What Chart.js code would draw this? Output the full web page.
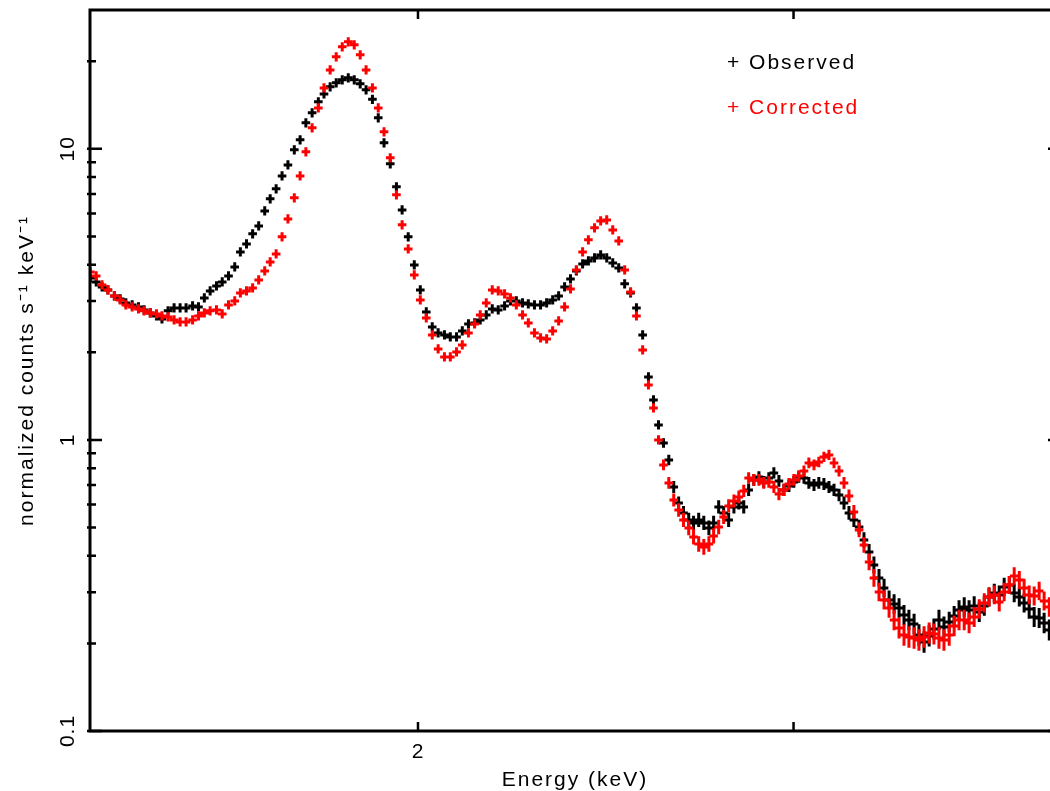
<!DOCTYPE html>
<html>
<head>
<meta charset="utf-8">
<title>Spectrum</title>
<script src="https://cdn.jsdelivr.net/npm/chart.js@4.4.0/dist/chart.umd.min.js"></script>
<style>
  html, body { margin: 0; padding: 0; background: #fff; overflow: hidden; }
  #wrap { width: 1050px; height: 791px; overflow: hidden; }
  canvas { display: block; }
</style>
</head>
<body>
<div id="wrap"><canvas id="spectrum" width="1080" height="791"></canvas></div>
<script>
// Energy bins (keV), shared by both spectra
const energy = [
  1.404, 1.413, 1.422, 1.431, 1.441, 1.450, 1.459, 1.469, 1.479, 1.488,
  1.498, 1.508, 1.517, 1.527, 1.537, 1.547, 1.557, 1.568, 1.578, 1.588,
  1.598, 1.609, 1.619, 1.630, 1.641, 1.651, 1.662, 1.673, 1.684, 1.695,
  1.705, 1.716, 1.727, 1.738, 1.750, 1.761, 1.772, 1.784, 1.796, 1.807,
  1.819, 1.831, 1.843, 1.855, 1.867, 1.879, 1.891, 1.904, 1.916, 1.928,
  1.941, 1.954, 1.966, 1.979, 1.992, 2.005, 2.018,
  2.031, 2.044, 2.058, 2.071, 2.085, 2.098, 2.112, 2.126, 2.139, 2.153,
  2.167, 2.181, 2.196, 2.210, 2.224, 2.239, 2.253, 2.268, 2.283, 2.298,
  2.313, 2.328, 2.343, 2.358, 2.373, 2.389, 2.404, 2.420, 2.436, 2.452,
  2.468, 2.484, 2.500, 2.516, 2.532, 2.549, 2.565,
  2.579, 2.593, 2.607, 2.622, 2.636, 2.650, 2.664, 2.679, 2.693, 2.708,
  2.723, 2.738, 2.752, 2.767, 2.782, 2.797, 2.813, 2.828, 2.843, 2.858,
  2.874, 2.890, 2.905, 2.921, 2.937, 2.953, 2.969, 2.985, 3.001, 3.017,
  3.034, 3.050, 3.067, 3.083, 3.100, 3.117, 3.134, 3.151, 3.168, 3.185,
  3.202, 3.220, 3.237, 3.255, 3.272, 3.290, 3.308, 3.326, 3.344, 3.362,
  3.380, 3.398, 3.417, 3.435, 3.454, 3.473, 3.491, 3.510, 3.529, 3.549,
  3.568, 3.587, 3.607, 3.626, 3.646, 3.666, 3.686, 3.705, 3.726, 3.746,
  3.766, 3.787, 3.807, 3.828, 3.848, 3.869, 3.890, 3.911, 3.932, 3.954,
  3.975
];

// normalized counts s^-1 keV^-1
const observed = [
  3.603, 3.491, 3.356, 3.277, 3.125, 3.051, 2.956, 2.910, 2.864, 2.797,
  2.732, 2.668, 2.605, 2.776, 2.842, 2.842, 2.842, 2.887, 2.864, 3.076,
  3.251, 3.382, 3.491, 3.661, 3.931, 4.426, 4.716, 5.105, 5.438, 6.122,
  6.734, 7.289, 8.075, 8.810, 9.922, 10.74, 12.29, 13.30, 14.51, 15.45,
  16.34, 16.86, 17.27, 17.54, 17.27, 16.73, 15.95, 14.80, 12.78, 10.49,
  8.881, 7.405, 6.171, 4.985, 3.994, 3.277, 2.754,
  2.445, 2.332, 2.295, 2.259, 2.259, 2.369, 2.504, 2.524, 2.584, 2.689,
  2.819, 2.797, 2.887, 3.003, 3.003, 2.956, 2.933, 2.910, 2.910, 2.956,
  3.027, 3.125, 3.356, 3.575, 3.809, 4.025, 4.122, 4.221, 4.322, 4.221,
  4.057, 3.900, 3.437, 3.200, 2.842, 2.295, 1.646,
  1.372, 1.126, 0.9765, 0.8538, 0.6895, 0.6075, 0.5613, 0.5311, 0.5186, 0.5311,
  0.5186, 0.4985, 0.5186, 0.5886, 0.5613, 0.5311, 0.5886, 0.6075, 0.5886, 0.6733,
  0.7290, 0.7461, 0.7173, 0.7404, 0.7703, 0.7230, 0.6733, 0.6950, 0.7173, 0.7461,
  0.7404, 0.7116, 0.7005, 0.7116, 0.7060, 0.6895, 0.6733, 0.6471, 0.6075, 0.5613,
  0.5311, 0.5024, 0.4533, 0.4122, 0.3720, 0.3356, 0.3101, 0.2819, 0.2731, 0.2646,
  0.2504, 0.2406, 0.2331, 0.2137, 0.2022, 0.2121, 0.2241, 0.2406, 0.2277, 0.2369,
  0.2484, 0.2604, 0.2667, 0.2604, 0.2689, 0.2564, 0.2689, 0.2887, 0.2980, 0.2934,
  0.3125, 0.3175, 0.2980, 0.2887, 0.2754, 0.2625, 0.2464, 0.2445, 0.2350, 0.2224,
  0.2137
];

const corrected = [
  3.779, 3.661, 3.409, 3.277, 3.125, 3.027, 2.910, 2.864, 2.819, 2.776,
  2.732, 2.710, 2.668, 2.647, 2.584, 2.543, 2.543, 2.584, 2.668, 2.732,
  2.776, 2.797, 2.710, 2.910, 3.003, 3.200, 3.251, 3.329, 3.546, 3.809,
  4.089, 4.357, 4.985, 5.747, 6.787, 8.075, 9.766, 11.81, 13.83, 16.20,
  18.68, 20.71, 22.41, 23.32, 22.77, 21.04, 18.68, 16.20, 13.83, 11.44,
  9.314, 6.950, 5.482, 4.533, 3.690, 3.027, 2.626,
  2.295, 2.054, 1.929, 1.929, 2.006, 2.121, 2.332, 2.504, 2.689, 2.956,
  3.277, 3.251, 3.175, 3.076, 2.910, 2.689, 2.524, 2.332, 2.241, 2.224,
  2.369, 2.564, 2.864, 3.303, 3.839, 4.426, 4.868, 5.354, 5.655, 5.702,
  5.267, 4.829, 3.839, 3.226, 2.668, 2.038, 1.545,
  1.288, 1.000, 0.8205, 0.7116, 0.6221, 0.5744, 0.5311, 0.4985, 0.4642, 0.4392,
  0.4289, 0.4392, 0.4679, 0.5024, 0.5438, 0.5933, 0.6172, 0.6370, 0.6680, 0.7404,
  0.7290, 0.7290, 0.7116, 0.7173, 0.6895, 0.6523, 0.6733, 0.7060, 0.7290, 0.7520,
  0.7825, 0.8337, 0.8205, 0.8403, 0.8741, 0.8881, 0.8337, 0.7825, 0.7116, 0.6421,
  0.5658, 0.4907, 0.4357, 0.3808, 0.3356, 0.3003, 0.2819, 0.2646, 0.2406, 0.2259,
  0.2137, 0.2104, 0.2087, 0.2054, 0.2104, 0.2172, 0.2154, 0.2087, 0.2054, 0.2137,
  0.2295, 0.2406, 0.2406, 0.2350, 0.2464, 0.2625, 0.2754, 0.2887, 0.2934, 0.2775,
  0.3003, 0.3175, 0.3409, 0.3303, 0.3101, 0.2934, 0.2910, 0.3028, 0.2797, 0.2667,
  0.2504
];

// Axis ticks
const yMajorTicks = [0.1, 1, 10];
const yTickLabels = ['0.1', '1', '10'];
const yMinorTicks = [0.2, 0.3, 0.4, 0.5, 0.6, 0.7, 0.8, 0.9, 2, 3, 4, 5, 6, 7, 8, 9, 20];
const xTicks = [2, 3];
const xTickLabels = ['2', ''];

const FONT = '21px "Liberation Sans", Arial, Helvetica, sans-serif';

// Draws the error-bar crosses, frame, inward ticks and all texts
const pgplotFrame = {
  id: 'pgplotFrame',
  afterDatasetsDraw(chart) {
    const { ctx, chartArea: a, scales: { x, y } } = chart;

    // data crosses (bin width horizontally, error vertically)
    chart.data.datasets.forEach((ds, di) => {
      const pts = chart.getDatasetMeta(di).data;
      ctx.save();
      ctx.beginPath();
      ctx.rect(a.left, a.top, a.right - a.left, a.bottom - a.top);
      ctx.clip();
      ctx.strokeStyle = ds.borderColor;
      ctx.lineWidth = 3;
      ctx.beginPath();
      pts.forEach((p, i) => {
        const prev = pts[i - 1] || pts[i + 1];
        const next = pts[i + 1] || pts[i - 1];
        const hw = Math.max(4.3, Math.abs(next.x - prev.x) / 4 + 1.2);
        const v = ds.data[i].y;
        const hh = 4.6 + 9 * Math.max(0, -Math.log10(v));
        ctx.moveTo(p.x - hw, p.y); ctx.lineTo(p.x + hw, p.y);
        ctx.moveTo(p.x, p.y - hh); ctx.lineTo(p.x, p.y + hh);
      });
      ctx.stroke();
      ctx.restore();
    });

    ctx.save();
    ctx.strokeStyle = '#000';
    ctx.lineWidth = 3;
    ctx.strokeRect(a.left, a.top, a.right - a.left, a.bottom - a.top);

    // y ticks, left and right
    ctx.lineWidth = 2.5;
    ctx.beginPath();
    yMajorTicks.forEach(t => {
      const py = y.getPixelForValue(t);
      ctx.moveTo(a.left - 3, py); ctx.lineTo(a.left + 12, py);
      ctx.moveTo(a.right + 3, py); ctx.lineTo(a.right - 12, py);
    });
    yMinorTicks.forEach(t => {
      const py = y.getPixelForValue(t);
      ctx.moveTo(a.left - 3, py); ctx.lineTo(a.left + 6, py);
      ctx.moveTo(a.right + 3, py); ctx.lineTo(a.right - 6, py);
    });
    // x ticks, bottom and top
    xTicks.forEach(t => {
      const px = x.getPixelForValue(t);
      ctx.moveTo(px, a.bottom); ctx.lineTo(px, a.bottom - 9);
      ctx.moveTo(px, a.top); ctx.lineTo(px, a.top + 9);
    });
    ctx.stroke();

    // tick labels
    ctx.fillStyle = '#000';
    ctx.font = FONT;
    ctx.letterSpacing = '1px';
    ctx.textAlign = 'center';
    ctx.textBaseline = 'alphabetic';
    yMajorTicks.forEach((t, i) => {
      ctx.save();
      ctx.translate(74, y.getPixelForValue(t));
      ctx.rotate(-Math.PI / 2);
      ctx.fillText(yTickLabels[i], 0, 0);
      ctx.restore();
    });
    xTicks.forEach((t, i) => {
      ctx.fillText(xTickLabels[i], x.getPixelForValue(t), 758);
    });

    // axis titles
    ctx.letterSpacing = '2px';
    ctx.fillText('Energy (keV)', (a.left + Math.min(a.right, 1060)) / 2, 786);
    ctx.save();
    ctx.translate(33, (a.top + a.bottom) / 2);
    ctx.rotate(-Math.PI / 2);
    ctx.fillText('normalized counts s\u207B\u00B9 keV\u207B\u00B9', 0, 0);
    ctx.restore();

    // legend
    ctx.textAlign = 'left';
    chart.data.datasets.forEach((ds, di) => {
      ctx.fillStyle = ds.borderColor;
      ctx.fillText('+ ' + ds.label, 727, 69 + di * 45);
    });
    ctx.restore();
  }
};

new Chart(document.getElementById('spectrum'), {
  type: 'scatter',
  data: {
    datasets: [
      {
        label: 'Observed',
        data: energy.map((e, i) => ({ x: e, y: observed[i] })),
        borderColor: '#000000',
        backgroundColor: '#000000',
        pointRadius: 0,
        showLine: false
      },
      {
        label: 'Corrected',
        data: energy.map((e, i) => ({ x: e, y: corrected[i] })),
        borderColor: '#ff0000',
        backgroundColor: '#ff0000',
        pointRadius: 0,
        showLine: false
      }
    ]
  },
  options: {
    responsive: false,
    animation: false,
    devicePixelRatio: 1,
    layout: { padding: { left: 90, top: 10, right: 20, bottom: 60 } },
    plugins: { legend: { display: false }, tooltip: { enabled: false } },
    scales: {
      x: { type: 'logarithmic', min: 1.4036, max: 4.0, display: false },
      y: { type: 'logarithmic', min: 0.1, max: 30, display: false }
    }
  },
  plugins: [pgplotFrame]
});
</script>
</body>
</html>
